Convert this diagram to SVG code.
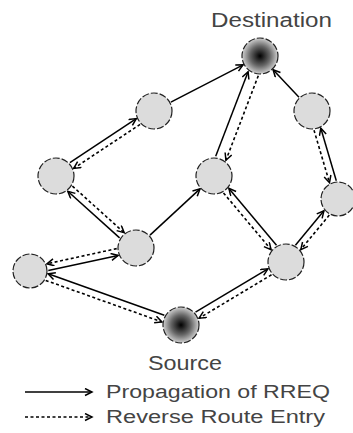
<svg xmlns="http://www.w3.org/2000/svg" width="353" height="433" viewBox="0 0 353 433">
<style>
.bg{fill:#fff}
.node{fill:#dcdcdc;stroke:#222;stroke-width:1.2;stroke-dasharray:7,2}
.end{fill:url(#rg);stroke:#222;stroke-width:1.2;stroke-dasharray:7,2}
.s{stroke:#000;stroke-width:1.5;fill:none;marker-end:url(#ah)}
.d{stroke:#000;stroke-width:1.6;fill:none;stroke-dasharray:3,2.5;marker-end:url(#ah)}
.lbl{font-family:"Liberation Sans",Arial,sans-serif;fill:#444}
</style>
<defs>
<radialGradient id="rg" cx="50%" cy="50%" r="50%">
<stop offset="0" stop-color="#000"/>
<stop offset="0.55" stop-color="#666"/>
<stop offset="1" stop-color="#d0d0d0"/>
</radialGradient>
<marker id="ah" markerUnits="userSpaceOnUse" markerWidth="10" markerHeight="10" refX="8" refY="4" orient="auto">
<path d="M1,0.5 L8,4 L1,7.5" fill="none" stroke="#000" stroke-width="1.5"/>
</marker>
</defs>
<rect class="bg" x="0" y="0" width="353" height="433"/>
<g id="connectors">
<line class="s" x1="164.3" y1="315.3" x2="48.1" y2="273.8"/>
<line class="d" x1="45.7" y1="280.4" x2="161.9" y2="321.9"/>
<line class="s" x1="195.5" y1="312.2" x2="267.9" y2="268.8"/>
<line class="d" x1="271.5" y1="274.8" x2="199.1" y2="318.2"/>
<line class="s" x1="48.3" y1="270.6" x2="118.1" y2="255.4"/>
<line class="d" x1="116.7" y1="248.6" x2="46.9" y2="263.8"/>
<line class="s" x1="119.6" y1="237.9" x2="67.8" y2="191.3"/>
<line class="d" x1="72.4" y1="186.1" x2="124.2" y2="232.7"/>
<line class="s" x1="150" y1="235.1" x2="200" y2="188.9"/>
<line class="s" x1="69.9" y1="162.6" x2="136.3" y2="118.6"/>
<line class="d" x1="140.1" y1="124.4" x2="73.7" y2="168.4"/>
<line class="s" x1="170.9" y1="102.2" x2="243.1" y2="64.8"/>
<line class="s" x1="276.5" y1="245.2" x2="228.9" y2="188.4"/>
<line class="d" x1="223.5" y1="192.9" x2="271.1" y2="249.7"/>
<line class="s" x1="215.7" y1="156.3" x2="248.1" y2="71.7"/>
<line class="d" x1="258.3" y1="75.7" x2="225.9" y2="160.3"/>
<line class="s" x1="295.4" y1="245.2" x2="323.9" y2="210.7"/>
<line class="d" x1="329.3" y1="215.1" x2="300.8" y2="249.6"/>
<line class="s" x1="336.3" y1="180.7" x2="320.8" y2="128.2"/>
<line class="d" x1="314" y1="130.2" x2="329.5" y2="182.7"/>
<line class="s" x1="299" y1="97.2" x2="273.1" y2="69.8"/>
</g>
<g id="destination"><circle class="end" cx="260" cy="56" r="18"/><text class="lbl" x="211" y="27" font-size="20" textLength="121" lengthAdjust="spacingAndGlyphs">Destination</text></g>
<g id="nodeA"><circle class="node" cx="154" cy="111" r="18"/></g>
<g id="nodeB"><circle class="node" cx="312" cy="111" r="18"/></g>
<g id="nodeC"><circle class="node" cx="56" cy="176" r="18"/></g>
<g id="nodeD"><circle class="node" cx="214" cy="176" r="18"/></g>
<g id="nodeE"><circle class="node" cx="338" cy="199" r="17"/></g>
<g id="nodeF"><circle class="node" cx="136" cy="248" r="18"/></g>
<g id="nodeG"><circle class="node" cx="30" cy="271" r="17"/></g>
<g id="nodeH"><circle class="node" cx="286" cy="262" r="18"/></g>
<g id="source"><circle class="end" cx="181" cy="325" r="18"/><text class="lbl" x="148" y="370" font-size="20" textLength="74" lengthAdjust="spacingAndGlyphs">Source</text></g>
<g id="legend">
<line class="s" x1="25" y1="392" x2="92" y2="392"/>
<text class="lbl" x="106" y="398" font-size="18" textLength="224" lengthAdjust="spacingAndGlyphs">Propagation of RREQ</text>
<line class="d" x1="25" y1="417" x2="92" y2="417"/>
<text class="lbl" x="106" y="423" font-size="18" textLength="219" lengthAdjust="spacingAndGlyphs">Reverse Route Entry</text>
</g>
</svg>
